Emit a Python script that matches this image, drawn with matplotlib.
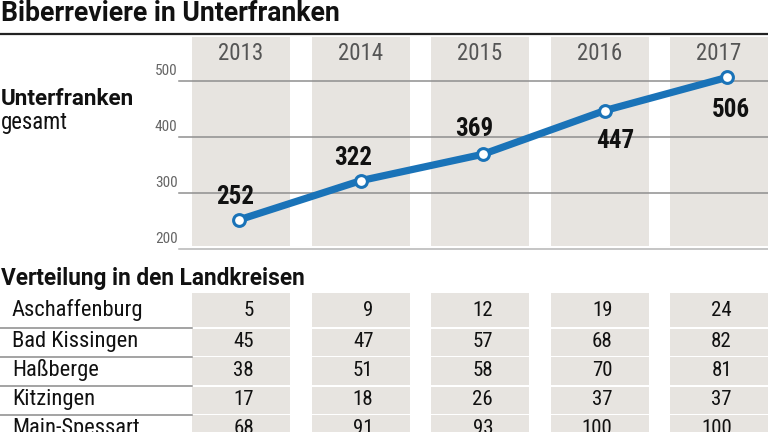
import matplotlib
matplotlib.use("Agg")
import matplotlib.pyplot as plt
from matplotlib import font_manager as fm

# ---------------- data ----------------
years = ["2013", "2014", "2015", "2016", "2017"]
total = [252, 322, 369, 447, 506]
y_ticks = [200, 300, 400, 500]
districts = ["Aschaffenburg", "Bad Kissingen", "Haßberge", "Kitzingen", "Main-Spessart"]
aschaffenburg = [5, 9, 12, 19, 24]
bad_kissingen = [45, 47, 57, 68, 82]
hassberge = [38, 51, 58, 70, 81]
kitzingen = [17, 18, 26, 37, 37]
main_spessart = [68, 91, 93, 100, 100]
table_values = [aschaffenburg, bad_kissingen, hassberge, kitzingen, main_spessart]

title = "Biberreviere in Unterfranken"
chart_label_bold = "Unterfranken"
chart_label = "gesamt"
table_title = "Verteilung in den Landkreisen"

# ---------------- fonts ----------------
avail = {f.name for f in fm.fontManager.ttflist}
FONT = "DejaVu Sans"
for cand in ["Roboto Condensed", "Liberation Sans Narrow", "DejaVu Sans Condensed",
             "Open Sans Condensed", "Roboto"]:
    if cand in avail:
        FONT = cand
        break
BOLD_FONT = "Roboto" if "Roboto" in avail else FONT
plt.rcParams["font.family"] = [FONT, "DejaVu Sans"]

W, H = 768, 432
fig = plt.figure(figsize=(W / 100, H / 100), dpi=100)
fig.patch.set_facecolor("white")

GRAY_BG = "#e7e4e0"
BLUE = "#1a73b8"
GRID = "#8f8f8f"
TXT = "#111111"

def px_rect(x0, y0, x1, y1):
    return [x0 / W, 1 - y1 / H, (x1 - x0) / W, (y1 - y0) / H]

# title + rule
fig.text(1 / W, 1 - 21 / H, title, fontsize=19.2, fontweight="bold",
         family=[BOLD_FONT, "DejaVu Sans"], color=TXT, va="baseline", ha="left")
fig.add_artist(plt.Line2D([0, 1], [1 - 34 / H, 1 - 34 / H], color="#222222", lw=1.6))

# ---------------- chart background axes ----------------
col_c0, col_step, col_w = 241, 119.5, 98
ax_bg = fig.add_axes(px_rect(179, 37, 768, 249))
ax_bg.set_xlim((179 - col_c0) / col_step, (768 - col_c0) / col_step)
ax_bg.set_ylim(200, 200 + 212 / 0.5607)
xs = list(range(len(years)))
ax_bg.bar(xs, [ax_bg.get_ylim()[1] - 205] * len(xs), bottom=205, width=col_w / col_step,
          color=GRAY_BG, zorder=0)
for t in y_ticks:
    ax_bg.axhline(t, color=GRID if t != 200 else "#b5b5b5", lw=1.1, zorder=1,
                  clip_on=False)
    ax_bg.annotate(str(t), xy=(0, t), xycoords=("axes fraction", "data"),
                   xytext=(-1, 2), textcoords="offset points",
                   ha="right", va="bottom", fontsize=11, color="#666666",
                   annotation_clip=False)
for i, y in enumerate(years):
    ax_bg.text(i, 200 + (249 - 54) / 0.5607, y, ha="center", va="center",
               fontsize=16.5, color="#555555")
ax_bg.axis("off")

# ---------------- line axes ----------------
m_c0, m_step = 239, 122
ax_ln = fig.add_axes(px_rect(179, 37, 768, 249))
ax_ln.set_xlim((179 - m_c0) / m_step, (768 - m_c0) / m_step)
ax_ln.set_ylim(ax_bg.get_ylim())
ax_ln.patch.set_alpha(0)
ax_ln.plot(xs, total, color=BLUE, lw=5.2, solid_capstyle="round", zorder=3,
           marker="o", markersize=8.5, markerfacecolor="white",
           markeredgecolor=BLUE, markeredgewidth=2.2)
label_offsets_px = [(-4, 23), (-8, 23), (-9, 25), (10, -30), (4, -33)]
for i, v in enumerate(total):
    dx, dy = label_offsets_px[i]
    ax_ln.annotate(str(v), xy=(i, v), xytext=(dx * 0.72, dy * 0.72),
                   textcoords="offset points", ha="center", va="center",
                   fontsize=18, fontweight="bold", color=TXT, zorder=4)
ax_ln.axis("off")

fig.text(1 / W, 1 - 105 / H, chart_label_bold, fontsize=16.2, fontweight="bold",
         family=[BOLD_FONT, "DejaVu Sans"], color=TXT, va="baseline", ha="left")
fig.text(1 / W, 1 - 123 / H, chart_label, fontsize=16.4, color=TXT,
         va="center", ha="left")

# ---------------- table ----------------
fig.text(1 / W, 1 - 284.5 / H, table_title, fontsize=16.3, fontweight="bold",
         family=[BOLD_FONT, "DejaVu Sans"], color=TXT, va="baseline", ha="left")

ax_tb = fig.add_axes(px_rect(0, 292, 768, 432))
ax_tb.set_xlim((0 - col_c0) / col_step, (768 - col_c0) / col_step)
ax_tb.set_ylim(432, 292)
row_edges = [292.5, 328, 356.5, 386, 414.5, 445]
for r in range(len(districts)):
    top, bot = row_edges[r], row_edges[r + 1]
    ax_tb.bar(xs, [bot - top - 1.6] * len(xs), bottom=top + 0.8,
              width=col_w / col_step, color=GRAY_BG, zorder=0)
    if r > 0:
        ax_tb.plot([ax_tb.get_xlim()[0], (192 - col_c0) / col_step], [top, top],
                   color="#8a8a8a", lw=1.1)
    cy = (top + bot) / 2 - 1 if r > 0 else 310
    ax_tb.text((12 - col_c0) / col_step, cy, districts[r], ha="left", va="center",
               fontsize=16.2, color=TXT)
    for i in xs:
        ax_tb.text(i + 13 / col_step, cy, str(table_values[r][i]), ha="right",
                   va="center", fontsize=15, color=TXT)
ax_tb.axis("off")

fig.savefig("out.png", dpi=100, facecolor="white")
